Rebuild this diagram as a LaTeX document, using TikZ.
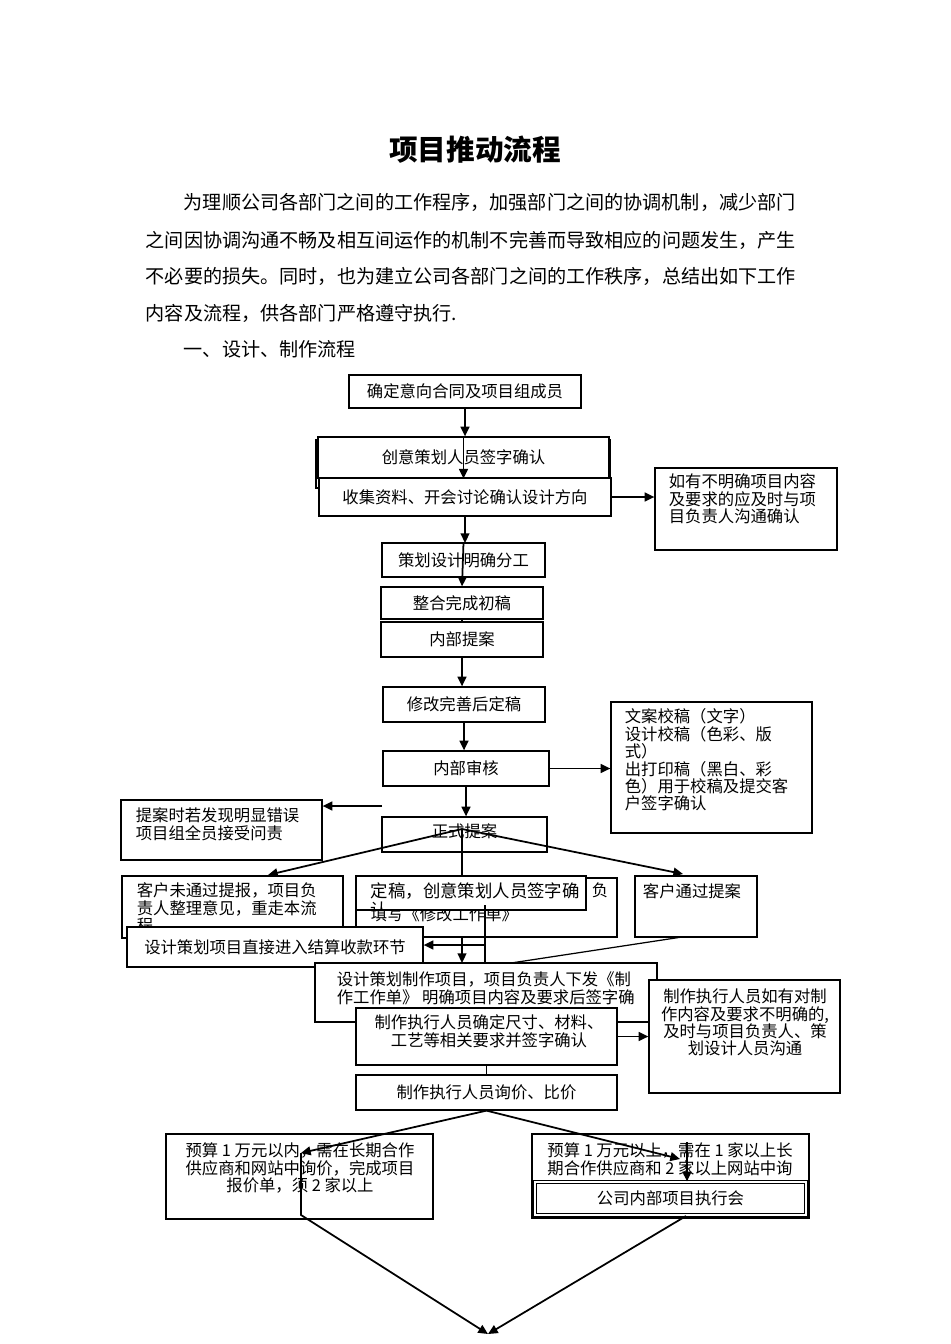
\documentclass[tikz,border=0pt]{standalone}
\usepackage{fontspec}
\setmainfont{Noto Sans CJK SC}
\usetikzlibrary{arrows.meta}

\begin{document}
\begin{tikzpicture}[x=0.02cm,y=-0.02cm,line width=1pt,>={Triangle[length=5.5pt,width=5pt]}]
\tikzstyle{box}=[draw,fill=white,inner sep=0pt,line width=0.7pt,font=\fontsize{9.3}{9.9}\selectfont]
\tikzstyle{txt}=[inner sep=0pt,align=left,font=\fontsize{9.3}{9.9}\selectfont]
\tikzstyle{para}=[inner sep=0pt,anchor=west,font=\fontsize{10.88}{12}\selectfont]
\tikzset{wh/.style 2 args={minimum width=#1*0.02cm,minimum height=#2*0.02cm}}

\useasboundingbox[fill=white] (0,0) rectangle (950,1344);

% heading and intro
\node[inner sep=0pt,font=\fontsize{16.3}{18}\selectfont\bfseries] (title) at (475,150) {项目推动流程};
\node[para] (l1) at (183,202) {为理顺公司各部门之间的工作程序，加强部门之间的协调机制，减少部门};
\node[para] (l2) at (145,240) {之间因协调沟通不畅及相互间运作的机制不完善而导致相应的问题发生，产生};
\node[para] (l3) at (145,276) {不必要的损失。同时，也为建立公司各部门之间的工作秩序，总结出如下工作};
\node[para] (l4) at (145,313) {内容及流程，供各部门严格遵守执行.};
\node[para] (l5) at (183,349) {一、设计、制作流程};

% design part
\node[box,wh={232}{33}] (b1) at (465,391.5) {确定意向合同及项目组成员};
\node[box,wh={294}{48}] (b2b) at (463,464) {};
\node[box,wh={291}{41}] (b2) at (463.5,457.5) {创意策划人员签字确认};
\node[box,wh={292}{38}] (b3) at (465,497) {收集资料、开会讨论确认设计方向};
\node[box,wh={182}{82}] (b4) at (746,509) {};
\node[txt,anchor=north west] (t4) at (668,473) {如有不明确项目内容\\及要求的应及时与项\\目负责人沟通确认};
\draw[->] (b1.south) -- (b1.south |- b2.north);
\draw[->] (b2.north) -- (b2.south);
\draw[->] (b3.east) -- (b3.east -| b4.west);
\draw[->] (b3.south) -- (b3.south |- 0,543);

\node[box,wh={163}{34}] (b5) at (463.5,560) {策划设计明确分工};
\node[box,wh={162}{32}] (b6) at (462,603) {整合完成初稿};
\node[box,wh={162}{35}] (b7) at (462,639.5) {内部提案};
\node[box,wh={162}{35}] (b8) at (464,704.5) {修改完善后定稿};
\node[box,wh={166}{35}] (b9) at (466,768.5) {内部审核};
\node[box,wh={201}{131}] (b10) at (711.5,767.5) {};
\node[txt,anchor=north west] (t10) at (624,708) {文案校稿（文字）\\设计校稿（色彩、版\\式）\\出打印稿（黑白、彩\\色）用于校稿及提交客\\户签字确认};
\node[box,wh={165}{35}] (b11) at (464.5,834.5) {};
\node[txt] (t11) at (464.5,831) {正式提案};
\node[box,wh={201}{60}] (b12) at (221.5,830) {};
\node[txt,anchor=north west] (t12) at (135,807) {提案时若发现明显错误\\项目组全员接受问责};
\draw[->] (b5.north) -- (b6.north);
\draw (b6.south) -- (b7.north);
\draw[->] (b7.south) -- (b7.south |- b8.north);
\draw[->] (b8.south) -- (b8.south |- b9.north);
\draw[->] (b9.east) -- (b9.east -| b10.west);
\draw[->] (b9.south) -- (b9.south |- b11.north);
\coordinate (c11) at (382,806);
\draw[->] (c11) -- (c11 -| b12.east);

% after the proposal
\coordinate (p11) at (462,829);
\coordinate (q13) at (268,875);
\coordinate (q17) at (683,874);
\draw[->] (p11) -- (q13);
\draw[->] (p11) -- (q17);
\draw[->] (p11) -- (p11 |- 0,963);

\node[box,wh={221}{62}] (b13) at (232.5,907) {};
\node[txt,anchor=north west] (t13) at (136,882) {客户未通过提报，项目负\\责人整理意见，重走本流\\程};
\node[box,wh={261}{59}] (b14) at (486.5,907.5) {};
\node[txt] (t14a) at (600,890) {负};
\node[txt,anchor=west] (t14b) at (370,914) {填写《修改工作单》};
\node[box,wh={230}{34}] (b15) at (471,893) {};
\begin{scope}
\clip (b15.north west) rectangle (b15.south east);
\node[txt,anchor=north west,font=\fontsize{9.9}{10.5}\selectfont] (t15) at (370,882) {定稿，创意策划人员签字确\\认};
\end{scope}
\node[box,wh={296}{40}] (b16) at (275,947) {设计策划项目直接进入结算收款环节};
\node[box,wh={122}{61}] (b17) at (696,906.5) {};
\node[txt] (t17) at (692,891) {客户通过提案};

% production part
\node[box,wh={342}{59}] (b18) at (486,992.5) {};
\node[txt,anchor=north west] (t18) at (336,971) {设计策划制作项目，项目负责人下发《制\\作工作单》 明确项目内容及要求后签字确};
\coordinate (p15) at (485,905);
\coordinate (p16) at (485,945);
\coordinate (q18) at (511,963);
\coordinate (r17) at (682,937);
\draw (p15) -- (p15 |- b18.north);
\draw[->] (p16) -- (p16 -| b16.east);
\draw[line width=0.7pt] (r17) -- (q18);

\node[box,wh={261}{57}] (b19) at (486.5,1036.5) {};
\node[txt,align=center,anchor=north] (t19) at (489,1014) {制作执行人员确定尺寸、材料、\\工艺等相关要求并签字确认};
\node[box,wh={191}{113}] (b20) at (744.5,1036.5) {};
\node[txt,align=center,anchor=north] (t20) at (745,988) {制作执行人员如有对制\\作内容及要求不明确的,\\及时与项目负责人、策\\划设计人员沟通};
\node[box,wh={261}{35}] (b21) at (486.5,1092.5) {制作执行人员询价、比价};
\draw[->] (b19.east) -- (b19.east -| b20.west);
\draw (b19.south) -- (b21.north);

\node[box,wh={267}{85}] (b22) at (299.5,1176.5) {};
\node[txt,align=center,anchor=north] (t22) at (300,1142) {预算 1 万元以内，需在长期合作\\供应商和网站中询价，完成项目\\报价单，须 2 家以上};
\node[box,wh={277}{84}] (b23) at (670.5,1176) {};
\node[txt,align=center,anchor=north] (t23) at (670,1142) {预算 1 万元以上，需在 1 家以上长\\期合作供应商和 2 家以上网站中询};
\node[box,double,double distance=0.8pt,wh={271}{33}] (b24) at (670.5,1198.5) {公司内部项目执行会};

\coordinate (q22) at (301,1153);
\coordinate (r22) at (301,1215);
\coordinate (q23) at (680,1159);
\coordinate (r23) at (687,1142);
\coordinate (s24) at (686,1216);
\coordinate (fin) at (488,1334);
\draw[->] (b21.south) -- (q22);
\draw[->] (b21.south) -- (q23);
\draw[->,line width=0.7pt] (r23) -- (r23 |- b24.north);
\draw[->] (q22) -- (r22) -- (fin);
\draw[->] (s24) -- (fin);

\end{tikzpicture}
\end{document}
